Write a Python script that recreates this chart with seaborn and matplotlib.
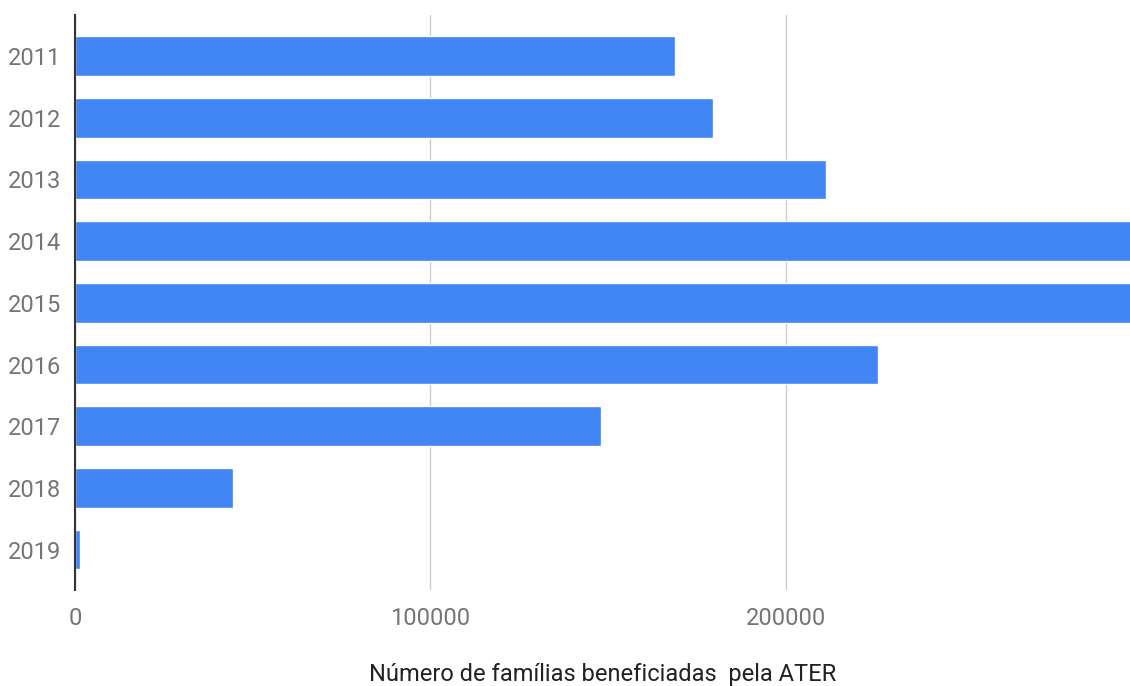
import numpy as np
import pandas as pd
import seaborn as sns
from matplotlib import pyplot as plt

# values; 2014 and 2015 run past the right edge
anos = ['2011', '2012', '2013', '2014', '2015', '2016', '2017', '2018', '2019']
familias = [168800, 179500, 211300, 310000, 305000, 225900, 148000, 44400, 1400]
x_ticks = [0, 100000, 200000]

BLUE = '#4285F4'

sns.set_theme(style='white')
plt.rcParams['font.family'] = ['Roboto', 'DejaVu Sans']

df = pd.DataFrame({'ano': anos, 'familias': familias})

fig = plt.figure(figsize=(11.30, 6.86), dpi=100)
ax = fig.add_axes([75 / 1130, 96 / 686, 1 - 75 / 1130, 575 / 686])

sns.barplot(data=df, x='familias', y='ano', color=BLUE, saturation=1,
            width=0.645, ax=ax, zorder=3)

ax.set_xlim(0, 296800)
ax.set_ylim(8.655, -0.665)
ax.set_xticks(x_ticks)
ax.set_xticklabels([str(v) for v in x_ticks])
ax.xaxis.grid(True, color='#cccccc', linewidth=1, zorder=0)
ax.yaxis.grid(False)

for side in ['top', 'right', 'bottom']:
    ax.spines[side].set_visible(False)
ax.spines['left'].set_color('#333333')
ax.spines['left'].set_linewidth(1.5)
ax.spines['left'].set_zorder(4)

ax.tick_params(axis='both', length=0, labelsize=17, labelcolor='#757575')
ax.tick_params(axis='x', pad=12)
ax.tick_params(axis='y', pad=10)
ax.set_ylabel('')
ax.set_xlabel('Número de famílias beneficiadas  pela ATER', fontsize=17,
              color='#222222', labelpad=24)

fig.savefig('out.png', dpi=100)
